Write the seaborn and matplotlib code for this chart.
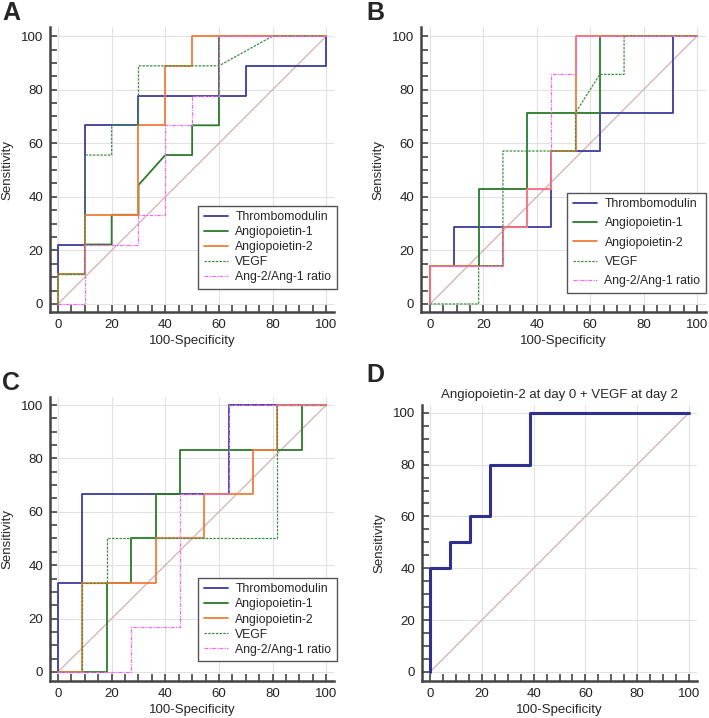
import matplotlib
matplotlib.use('Agg')
import matplotlib.pyplot as plt
import seaborn as sns
import pandas as pd
from matplotlib.ticker import MultipleLocator

sns.set_style("whitegrid")
plt.rcParams['font.family'] = ['Liberation Sans', 'DejaVu Sans']

names = ["Thrombomodulin", "Angiopoietin-1", "Angiopoietin-2", "VEGF", "Ang-2/Ang-1 ratio"]
colors = ["#3b3b9c", "#2a7a2a", "#f07c3c", "#3f8f3f", "#ee6aee"]
styles = ["-", "-", "-", (0, (2, 1)), (0, (3, 1, 1, 1))]
widths = [1.3, 1.3, 1.3, 0.9, 0.9]

# panel A: 10 negatives, 9 positives
a_tm_x = [0, 0, 10, 10, 30, 30, 70, 70, 100, 100]
a_tm_y = [0, 22.2, 22.2, 66.7, 66.7, 77.8, 77.8, 88.9, 88.9, 100]
a_ang1_x = [0, 0, 10, 10, 20, 20, 30, 30, 40, 50, 50, 60, 60, 100]
a_ang1_y = [0, 11.1, 11.1, 22.2, 22.2, 33.3, 33.3, 44.4, 55.6, 55.6, 66.7, 66.7, 100, 100]
a_ang2_x = [0, 0, 10, 10, 30, 30, 40, 40, 50, 50, 100]
a_ang2_y = [0, 11.1, 11.1, 33.3, 33.3, 66.7, 66.7, 88.9, 88.9, 100, 100]
a_vegf_x = [0, 0, 10, 10, 20, 20, 30, 30, 60, 80, 100]
a_vegf_y = [0, 11.1, 11.1, 55.6, 55.6, 66.7, 66.7, 88.9, 88.9, 100, 100]
a_ratio_x = [0, 10, 10, 30, 30, 40, 40, 50, 50, 60, 60, 100]
a_ratio_y = [0, 0, 22.2, 22.2, 33.3, 33.3, 66.7, 66.7, 77.8, 77.8, 100, 100]

# panel B: 11 negatives, 7 positives
b_tm_x = [0, 0, 9.1, 9.1, 45.5, 45.5, 63.6, 63.6, 90.9, 90.9, 100]
b_tm_y = [0, 14.3, 14.3, 28.6, 28.6, 57.1, 57.1, 71.4, 71.4, 100, 100]
b_ang1_x = [0, 0, 18.2, 18.2, 36.4, 36.4, 63.6, 63.6, 100]
b_ang1_y = [0, 14.3, 14.3, 42.9, 42.9, 71.4, 71.4, 100, 100]
b_ang2_x = [0, 0, 27.3, 27.3, 36.4, 36.4, 45.5, 45.5, 54.5, 54.5, 100]
b_ang2_y = [0, 14.3, 14.3, 28.6, 28.6, 42.9, 42.9, 57.1, 57.1, 100, 100]
b_vegf_x = [0, 18.2, 18.2, 27.3, 27.3, 54.5, 54.5, 63.6, 72.7, 72.7, 100]
b_vegf_y = [0, 0, 14.3, 14.3, 57.1, 57.1, 71.4, 85.7, 85.7, 100, 100]
b_ratio_x = [0, 0, 27.3, 27.3, 36.4, 36.4, 45.5, 45.5, 54.5, 54.5, 100]
b_ratio_y = [0, 14.3, 14.3, 28.6, 28.6, 42.9, 42.9, 85.7, 85.7, 100, 100]

# panel C: 11 negatives, 6 positives
c_tm_x = [0, 0, 9.1, 9.1, 63.6, 63.6, 100]
c_tm_y = [0, 33.3, 33.3, 66.7, 66.7, 100, 100]
c_ang1_x = [0, 18.2, 18.2, 27.3, 27.3, 36.4, 36.4, 45.5, 45.5, 90.9, 90.9, 100]
c_ang1_y = [0, 0, 33.3, 33.3, 50, 50, 66.7, 66.7, 83.3, 83.3, 100, 100]
c_ang2_x = [0, 9.1, 9.1, 36.4, 36.4, 54.5, 54.5, 72.7, 72.7, 81.8, 81.8, 100]
c_ang2_y = [0, 0, 33.3, 33.3, 50, 50, 66.7, 66.7, 83.3, 83.3, 100, 100]
c_vegf_x = [0, 9.1, 9.1, 18.2, 18.2, 81.8, 81.8, 100]
c_vegf_y = [0, 0, 33.3, 33.3, 50, 50, 100, 100]
c_ratio_x = [0, 27.3, 27.3, 45.5, 45.5, 63.6, 63.6, 100]
c_ratio_y = [0, 0, 16.7, 16.7, 66.7, 66.7, 100, 100]

# panel D: combined model, 13 negatives
d_x = [0, 0, 7.7, 7.7, 15.4, 15.4, 23.1, 23.1, 38.5, 38.5, 100]
d_y = [0, 40, 40, 50, 50, 60, 60, 80, 80, 100, 100]
d_title = "Angiopoietin-2 at day 0 + VEGF at day 2"

panels = {
    "A": [(a_tm_x, a_tm_y), (a_ang1_x, a_ang1_y), (a_ang2_x, a_ang2_y), (a_vegf_x, a_vegf_y), (a_ratio_x, a_ratio_y)],
    "B": [(b_tm_x, b_tm_y), (b_ang1_x, b_ang1_y), (b_ang2_x, b_ang2_y), (b_vegf_x, b_vegf_y), (b_ratio_x, b_ratio_y)],
    "C": [(c_tm_x, c_tm_y), (c_ang1_x, c_ang1_y), (c_ang2_x, c_ang2_y), (c_vegf_x, c_vegf_y), (c_ratio_x, c_ratio_y)],
}

W, H = 709, 718
fig = plt.figure(figsize=(W / 100, H / 100), dpi=100)


def px_axes(left, top, right, bottom):
    return fig.add_axes([left / W, 1 - bottom / H, (right - left) / W, (bottom - top) / H])


def style_axes(ax, xlim, ylim):
    ax.set_xlim(*xlim)
    ax.set_ylim(*ylim)
    ax.xaxis.set_major_locator(MultipleLocator(20))
    ax.yaxis.set_major_locator(MultipleLocator(20))
    ax.xaxis.set_minor_locator(MultipleLocator(5))
    ax.yaxis.set_minor_locator(MultipleLocator(5))
    ax.grid(True, which="major", color="#e2e2e2", lw=0.8)
    ax.grid(False, which="minor")
    for s in ["top", "right"]:
        ax.spines[s].set_visible(False)
    for s in ["left", "bottom"]:
        ax.spines[s].set_color("#444444")
        ax.spines[s].set_linewidth(1.8)
    ax.tick_params(which="both", direction="in", length=5, width=1.2, color="#444444",
                   labelsize=9.5, pad=5, labelcolor="#222222",
                   bottom=True, left=True)
    ax.set_xlabel("100-Specificity", fontsize=9.5, labelpad=3)
    ax.set_ylabel("Sensitivity", fontsize=9.5, labelpad=5)
    ax.plot([0, 100], [0, 100], color="#d0a8a8", lw=0.8, zorder=1)


# pixel box, xlim, ylim, legend anchor, legend row spacing
boxes = {
    "A": ((50, 27, 334, 312), (-3.0, 102.9), (-3.0, 103.4), (1.01, 0.081), 0.25),
    "B": ((421, 27, 706, 312), (-3.4, 103.4), (-3.0, 103.4), (1.0, 0.067), 0.6),
    "C": ((50, 397, 334, 681), (-3.0, 102.9), (-3.4, 103.0), (1.01, 0.07), 0.25),
}
letters = {"A": (2, 20), "B": (366, 20), "C": (2, 390), "D": (366, 382)}

for key, series in panels.items():
    box, xlim, ylim, anchor, spacing = boxes[key]
    ax = px_axes(*box)
    style_axes(ax, xlim, ylim)
    for (xs, ys), name, c, ls, lw in zip(series, names, colors, styles, widths):
        sns.lineplot(x=xs, y=ys, sort=False, estimator=None, color=c, lw=lw,
                     linestyle=ls, ax=ax, label=name, zorder=3)
    leg = ax.legend(loc="lower right", bbox_to_anchor=anchor, borderaxespad=0,
                    fontsize=8.8, frameon=True, fancybox=False, framealpha=1,
                    edgecolor="#555555", handlelength=2.0, handletextpad=0.6,
                    labelspacing=spacing, borderpad=0.45)
    leg.get_frame().set_linewidth(1.0)

ax = px_axes(422, 405, 697, 681)
style_axes(ax, (-3.1, 103.1), (-3.5, 103.0))
sns.lineplot(x=d_x, y=d_y, sort=False, estimator=None, color="#2e3192", lw=2.2, ax=ax, zorder=3)
ax.set_title(d_title, fontsize=9.5, pad=5)

for key, (x, y) in letters.items():
    fig.text(x / W, 1 - y / H, key, fontsize=18, fontweight="heavy", ha="left", va="baseline")

fig.savefig("out.png", dpi=100)
